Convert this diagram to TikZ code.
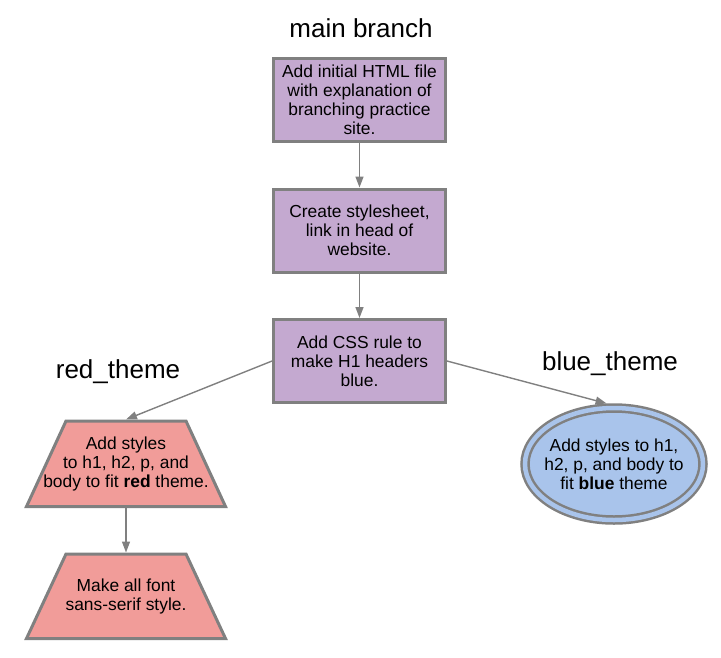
\documentclass[tikz,border=0pt]{standalone}
\usepackage{fontspec}
\setmainfont{Liberation Sans}
\usetikzlibrary{arrows.meta,shapes.geometric}
\definecolor{boxpurple}{HTML}{C4A9D0}
\definecolor{boxred}{HTML}{F19C99}
\definecolor{boxblue}{HTML}{A9C4EB}
\definecolor{edgegray}{HTML}{808080}
\tikzset{
  nodefont/.style={font=\fontsize{17.4pt}{19pt}\selectfont},
  commit/.style={draw=edgegray, line width=3pt, fill=boxpurple, minimum width=172pt, minimum height=83pt, inner sep=0pt, align=center, nodefont},
  trapshape/.style={draw=edgegray, line width=3pt, fill=boxred, line join=miter},
  plaintext/.style={inner sep=0pt, outer sep=0pt, align=center, nodefont},
  traptext/.style={minimum width=202pt, minimum height=88pt, plaintext},
  blueell/.style={ellipse, draw=edgegray, double=boxblue, double distance=4.5pt, line width=2.5pt, fill=boxblue, minimum width=178pt, minimum height=112pt, inner sep=0pt, outer sep=4.75pt},
  branchlabel/.style={font=\fontsize{26pt}{28pt}\selectfont, inner sep=0pt},
  conn/.style={draw=edgegray, line width=1.4pt, -{Triangle[length=11pt,width=8pt]}}
}
\begin{document}
\begin{tikzpicture}[x=1pt,y=-1pt]
\useasboundingbox (0,0) rectangle (721,657);
\node[branchlabel] (lmain) at (361,28) {main branch};
\node[branchlabel] (lred) at (118,372) {red\_theme};
\node[branchlabel] (lblue) at (610,364) {blue\_theme};

\node[commit] (b1) at (359.5,100) {Add initial HTML file\\with explanation of\\branching practice\\site.};
\node[commit] (b2) at (359.5,230.5) {Create stylesheet,\\link in head of\\website.};
\node[commit] (b3) at (359.5,361) {Add CSS rule to\\make H1 headers\\blue.};

% trapezoids drawn as polygons, text nodes on top
\draw[trapshape] (26.5,506.5) -- (225.5,506.5) -- (186,421) -- (66,421) -- cycle;
\node[traptext] (t1) at (126,463.5) {Add styles\\to h1, h2, p, and\\body to fit \textbf{red} theme.};
\draw[trapshape] (26.5,638.5) -- (225.5,638.5) -- (186,554) -- (66,554) -- cycle;
\node[traptext] (t2) at (126,596.5) {Make all font\\sans-serif style.};

\node[blueell] (e1) at (614,464) {};
\node[plaintext] (e1text) at (614,464) {Add styles to h1,\\h2, p, and body to\\fit \textbf{blue} theme};

\draw[conn] (b1.south) -- (b2.north);
\draw[conn] (b2.south) -- (b3.north);
\draw[conn] (b3.west) -- (t1.north);
\draw[conn] (b3.east) -- (e1.97);
\draw[conn] (t1.south) -- (t2.north);
\end{tikzpicture}
\end{document}
